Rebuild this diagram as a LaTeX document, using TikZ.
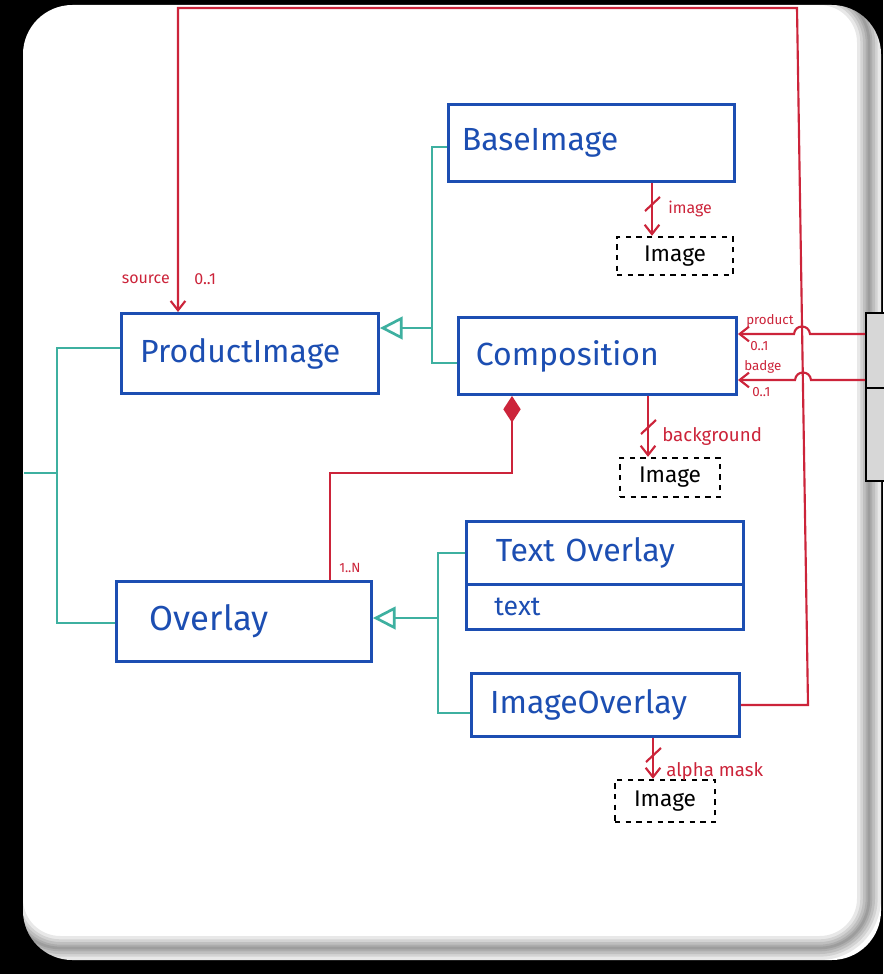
\documentclass[tikz,border=0pt]{standalone}
\usepackage{fontspec}
\setmainfont{Fira Sans}
\usetikzlibrary{arrows.meta}
\definecolor{umlblue}{RGB}{28,78,178}
\definecolor{umlteal}{RGB}{62,176,160}
\definecolor{umlred}{RGB}{204,36,58}
\definecolor{panelgray}{RGB}{215,215,215}

\begin{document}
\begin{tikzpicture}[x=0.75pt,y=-0.75pt,
  classbox/.style 2 args={draw=umlblue, line width=2.2pt, text=umlblue,
    anchor=north west, align=left, inner ysep=0pt, inner xsep=#1, text width=#2,
    font=\fontsize{24}{28}\selectfont},
  dashbox/.style={draw=black, line width=1.8pt, dash pattern=on 4pt off 4pt,
    minimum width=#1, inner sep=0pt, font=\fontsize{17}{20}\selectfont},
  genline/.style={draw=umlteal, line width=2pt},
  gentip/.style={-{Triangle[open,length=17pt,width=17pt]}},
  redline/.style={draw=umlred, line width=1.6pt},
  redtip/.style={-{Straight Barb[length=7pt,width=11pt]}},
  redlabel/.style={text=umlred, inner sep=0pt, anchor=west, font=\fontsize{12}{14}\selectfont},
  cardshade/.style={black, rounded corners=37pt, opacity=0.09},
]
\useasboundingbox (0,0) rectangle (883,974);

% backdrop and card with a soft inner shadow along the lower and right edges
\fill[black] (0,0) rectangle (883,974);
\fill[white, rounded corners=37pt] (23,5) rectangle (881,960);
\begin{scope}
  \clip[rounded corners=37pt] (23,5) rectangle (881,960);
  \draw[cardshade, line width=18pt] (11,-7) rectangle (869,948);
  \draw[cardshade, line width=13pt] (11,-7) rectangle (869,948);
  \draw[cardshade, line width=9pt]  (11,-7) rectangle (869,948);
  \draw[cardshade, line width=5pt]  (11,-7) rectangle (869,948);
  \draw[cardshade, line width=2pt]  (11,-7) rectangle (869,948);
\end{scope}

% partly visible external class on the right
\node[draw=black, line width=1.6pt, fill=panelgray, anchor=north west,
  minimum width=30pt, minimum height=126pt, inner sep=0pt] (ext) at (865,312) {};
\draw[black, line width=1.6pt] (ext.west |- 0,388) -- (ext.east |- 0,388);

% classes
\node[classbox={10pt}{194.5pt}, minimum height=57.75pt] (base) at (447,103) {BaseImage};
\node[classbox={14pt}{164.75pt}, minimum height=60pt] (prod) at (120,312) {ProductImage};
\node[classbox={13pt}{182.5pt}, minimum height=57.75pt] (comp) at (457,316) {Composition};
\node[classbox={22pt}{163.75pt}, minimum height=47.25pt] (tovhead) at (465,520) {Text Overlay};
\node[classbox={21pt}{165.75pt}, minimum height=33.75pt, font=\fontsize{20}{24}\selectfont] (tovbody) at (465,583) {text};
\node[classbox={25pt}{141.25pt}, minimum height=60pt, font=\fontsize{26}{30}\selectfont] (over) at (115,580) {Overlay};
\node[classbox={14pt}{173pt}, minimum height=47.25pt] (imgov) at (470,672) {ImageOverlay};

% referenced images
\node[dashbox=87pt, minimum height=28.5pt] (img1) at (675,256) {Image};
\node[dashbox=75pt, minimum height=29.25pt] (img2) at (670,477.5) {Image};
\node[dashbox=75pt, minimum height=31.5pt] (img3) at (665,801) {Image};

% generalisations
\draw[genline] (base.west |- 0,147) -| (432,363) -- (comp.west |- 0,363);
\draw[genline, gentip] (432,328) -- (prod.east |- 0,328);
\draw[genline] (tovhead.west |- 0,553) -| (438,713) -- (imgov.west |- 0,713);
\draw[genline, gentip] (438,618) -- (over.east |- 0,618);
\coordinate (leftend) at (24,473);
\draw[genline] (prod.west |- 0,348) -| (57,623) -- (over.west |- 0,623);
\draw[genline] (57,473) -- (leftend);

% source association
\draw[redline, redtip] (imgov.east |- 0,705) -- (808,705) -- (797,8) -- (178,8) -- (178,0 |- prod.north);
\node[redlabel, anchor=east] (srclbl) at (170,279) {source};
\node[redlabel] (srcmul) at (194,279) {0..1};

% product and badge associations, hopping over the source line
\draw[redline, redtip] (ext.west |- 0,334) -- (810,334) .. controls (809,324) and (795,324) .. (794,334) -- (comp.east |- 0,334);
\draw[redline, redtip] (ext.west |- 0,380) -- (811,380) .. controls (810,370) and (796,370) .. (795,380) -- (comp.east |- 0,380);
\node[redlabel, font=\fontsize{10}{12}\selectfont] (prodlbl) at (746,321) {product};
\node[redlabel, font=\fontsize{10}{12}\selectfont] (prodmul) at (750,346) {0..1};
\node[redlabel, font=\fontsize{10}{12}\selectfont] (badgelbl) at (744,367) {badge};
\node[redlabel, font=\fontsize{10}{12}\selectfont] (badgemul) at (752,392) {0..1};

% image links
\draw[redline, redtip] (652,0 |- base.south) -- (652,0 |- img1.north);
\draw[redline] (645,211) -- (660,197);
\node[redlabel] (imglbl) at (668,209) {image};

\draw[redline, redtip] (648,0 |- comp.south) -- (648,0 |- img2.north);
\draw[redline] (641,434) -- (656,420);
\node[redlabel, font=\fontsize{14}{16}\selectfont] (bglbl) at (662,436) {background};

\draw[redline, redtip] (653,0 |- imgov.south) -- (653,0 |- img3.north);
\draw[redline] (646,762) -- (661,748);
\node[redlabel, font=\fontsize{14}{16}\selectfont] (alphalbl) at (666,771) {alpha mask};

% composition owns overlays
\draw[redline, {Diamond[length=20pt,width=13pt]}-] (512,0 |- comp.south) -- (512,473) -- (330,473) -- (330,0 |- over.north);
\node[redlabel, font=\fontsize{10}{12}\selectfont] (ovmul) at (339,568) {1..N};
\end{tikzpicture}
\end{document}
